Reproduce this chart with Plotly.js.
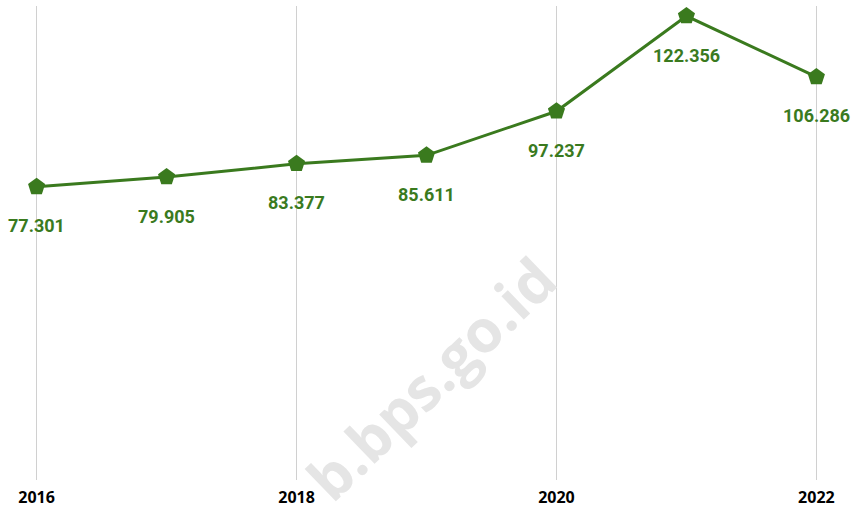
<!DOCTYPE html>
<html>
<head>
<meta charset="utf-8">
<script src="https://cdn.plot.ly/plotly-3.0.1.min.js"></script>
<style>html,body{margin:0;padding:0;background:#fff;}#chart{width:856px;height:509px;}</style>
</head>
<body>
<div id="chart"></div>
<script>
const years = [2016, 2017, 2018, 2019, 2020, 2021, 2022];
const values = [77.301, 79.905, 83.377, 85.611, 97.237, 122.356, 106.286];
const valueLabels = ["77.301", "79.905", "83.377", "85.611", "97.237", "122.356", "106.286"];
const tickYears = [2016, 2018, 2020, 2022];
const tickLabels = ["2016", "2018", "2020", "2022"];
const watermark = "b.bps.go.id";

const green = "#3a7a1e";

const trace = {
  x: years,
  y: values,
  type: "scatter",
  mode: "lines+markers",
  line: {color: green, width: 3},
  marker: {symbol: "pentagon", size: 18, color: green},
  cliponaxis: false,
  hoverinfo: "x+y"
};

const labelAnns = years.map((yr, i) => ({
  x: yr, y: values[i], xref: "x", yref: "y",
  text: valueLabels[i], showarrow: false,
  yshift: -39, xanchor: "center", yanchor: "middle",
  font: {family: "Roboto, sans-serif", size: 18, color: green, weight: "bold"}
}));

const wmAnn = {
  x: 0.505, y: 0.215, xref: "paper", yref: "paper",
  text: watermark, showarrow: false, textangle: -44,
  xanchor: "center", yanchor: "middle",
  font: {family: "Open Sans, sans-serif", size: 59, color: "#e5e5e5", weight: "bold"}
};

const layout = {
  width: 856, height: 509,
  margin: {l: 34.4, r: 37.4, t: 5.6, b: 29},
  paper_bgcolor: "#fff", plot_bgcolor: "#fff",
  showlegend: false,
  xaxis: {
    range: [2015.98, 2022.02],
    tickmode: "array", tickvals: tickYears, ticktext: tickLabels,
    showgrid: true, gridcolor: "#d0d0d0", gridwidth: 1.5,
    zeroline: false, showline: false, ticks: "",
    ticklabelstandoff: 6,
    tickfont: {family: "Open Sans, sans-serif", size: 16, color: "#000", weight: "bold"},
    fixedrange: true
  },
  yaxis: {
    range: [0, 125],
    showgrid: false, zeroline: false, showline: false,
    showticklabels: false, ticks: "", fixedrange: true
  },
  annotations: [wmAnn].concat(labelAnns)
};

Plotly.newPlot("chart", [trace], layout, {displayModeBar: false, staticPlot: true});
</script>
</body>
</html>
